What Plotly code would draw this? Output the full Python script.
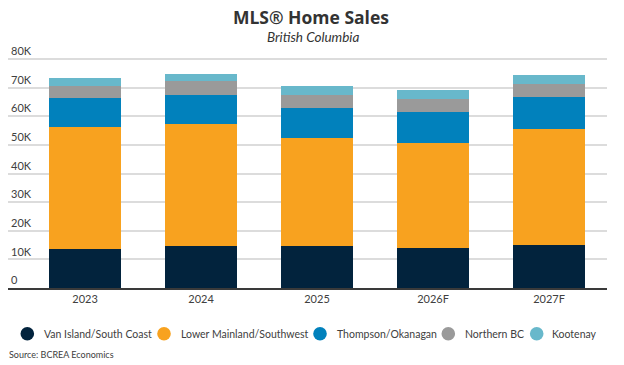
import plotly.graph_objects as go

years = ["2023", "2024", "2025", "2026F", "2027F"]
van_island = [13600, 14500, 14500, 14000, 15000]
lower_mainland = [42800, 42900, 37800, 36800, 40600]
thompson = [10100, 9900, 10700, 10800, 11300]
northern = [4200, 4900, 4300, 4300, 4400]
kootenay = [2600, 2700, 3100, 3100, 3200]

series_names = ["Van Island/South Coast", "Lower Mainland/Southwest",
                "Thompson/Okanagan", "Northern BC", "Kootenay"]
series_values = [van_island, lower_mainland, thompson, northern, kootenay]
colors = ["#02233D", "#F8A21F", "#0181BC", "#9A9A9A", "#68B8CB"]

y_tickvals = [0, 10000, 20000, 30000, 40000, 50000, 60000, 70000, 80000]
y_ticktext = ["0", "10K", "20K", "30K", "40K", "50K", "60K", "70K", "80K"]

# page body adds an 8px offset; figure coordinates = window coordinates - 8
OFF = 8
W, H = 616, 357
ML, MR, MT, MB = 0, 17, 34, 77
plot_w = W - ML - MR
plot_h = H - MT - MB
base_y = H - MB
PX_PER_80K = 229.0


def px_x(px):
    return (px - OFF - ML) / plot_w


def px_y(py):
    return (base_y - (py - OFF)) / plot_h


fig = go.Figure()
for name, vals, c in zip(series_names, series_values, colors):
    fig.add_trace(go.Bar(
        x=years, y=vals, name=name, marker=dict(color=c, line=dict(width=0)),
        width=0.62, showlegend=False,
    ))

# manual legend (circle symbols + labels)
legend_circle_px = [27.3, 164, 320, 448.3, 536.7]
legend_text_px = [41.5, 179, 335, 463, 550]
legend_y = px_y(333.7)
shapes = []
annotations = []
for name, c, cx, tx in zip(series_names, colors, legend_circle_px, legend_text_px):
    shapes.append(dict(
        type="circle", xref="paper", yref="paper",
        xsizemode="pixel", ysizemode="pixel",
        xanchor=px_x(cx), yanchor=legend_y,
        x0=-6.8, x1=6.8, y0=-6.8, y1=6.8,
        fillcolor=c, line=dict(width=0),
    ))
    annotations.append(dict(
        text=name, xref="paper", yref="paper", x=px_x(tx), y=legend_y,
        xanchor="left", yanchor="middle", showarrow=False,
        font=dict(family="Lato", size=10.5, color="#404040"),
    ))

annotations.append(dict(
    text="<i>British Columbia</i>", xref="paper", yref="paper",
    x=px_x(313), y=px_y(37), xanchor="center", yanchor="middle", showarrow=False,
    font=dict(family="Lato", size=13.5, color="#333333"),
))
annotations.append(dict(
    text="Source: BCREA Economics", xref="paper", yref="paper",
    x=px_x(7), y=px_y(354), xanchor="left", yanchor="middle", showarrow=False,
    font=dict(family="Lato", size=9, color="#404040"),
))

fig.update_layout(
    barmode="stack",
    width=W, height=H,
    margin=dict(l=ML, r=MR, t=MT, b=MB, autoexpand=False),
    paper_bgcolor="white", plot_bgcolor="white",
    font=dict(family="Lato", color="#404040"),
    showlegend=False,
    title=dict(
        text="<b>MLS® Home Sales</b>",
        xref="container", yref="container",
        x=(311 - OFF) / W, xanchor="center",
        y=1 - (17.5 - OFF) / H, yanchor="middle",
        font=dict(family="Open Sans", size=17.5, color="#333333"),
    ),
    xaxis=dict(
        type="category", range=[-0.664, 4.5],
        showline=True, linecolor="#3a3a3a", linewidth=2,
        showgrid=False, ticks="",
        tickfont=dict(family="Lato", size=11, color="#404040"),
    ),
    yaxis=dict(
        range=[0, 80000 * plot_h / PX_PER_80K], tickvals=y_tickvals, ticktext=y_ticktext,
        showgrid=True, gridcolor="#DCDCDC", gridwidth=1.5,
        zeroline=False, ticks="",
        ticklabelposition="inside top",
        tickfont=dict(family="Lato", size=11, color="#404040"),
    ),
    shapes=shapes,
    annotations=annotations,
)

fig.write_html("out.html")
